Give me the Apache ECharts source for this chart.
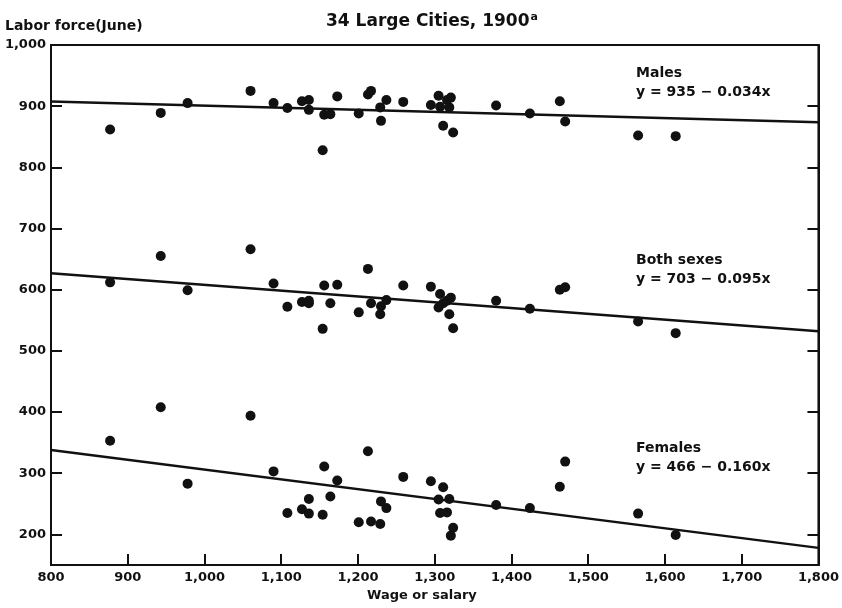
<!DOCTYPE html>
<html>
<head>
<meta charset="utf-8">
<script src="https://cdn.jsdelivr.net/npm/echarts@6/dist/echarts.min.js"></script>
<style>
  html, body { margin: 0; padding: 0; background: #fff; }
  #chart { width: 842px; height: 608px; }
</style>
</head>
<body>
<div id="chart"></div>
<script>
// Average annual wage or salary for each of the 34 cities (dollars)
const wage = [877, 943, 978, 1060, 1090, 1108, 1127, 1136, 1136, 1154, 1156, 1164, 1173, 1201, 1213, 1217,
  1229, 1230, 1237, 1259, 1295, 1305, 1307, 1311, 1316, 1319, 1321, 1324, 1380, 1424, 1463, 1470, 1565, 1614];
// Labor force in June per 1,000 population of each group, same city order
const males = [862, 889, 905, 925, 905, 897, 908, 910, 894, 828, 886, 887, 916, 888, 919, 925,
  898, 876, 910, 907, 902, 917, 899, 868, 910, 898, 914, 857, 901, 888, 908, 875, 852, 851];
const bothSexes = [612, 655, 599, 666, 610, 572, 580, 578, 582, 536, 607, 578, 608, 563, 634, 578,
  560, 573, 583, 607, 605, 571, 593, 578, 582, 560, 587, 537, 582, 569, 600, 604, 548, 529];
const females = [353, 408, 283, 394, 303, 235, 241, 234, 258, 232, 311, 262, 288, 220, 336, 221,
  217, 254, 243, 294, 287, 257, 235, 277, 236, 258, 198, 211, 248, 243, 278, 319, 234, 199];

// Fitted regressions y = a + b·x
const groupNames = ['Males', 'Both sexes', 'Females'];
const fitIntercept = [935, 703, 466];
const fitSlope = [-0.034, -0.095, -0.160];

const xRange = [800, 1800];
const yRange = [150, 1000];
const yTicks = [200, 300, 400, 500, 600, 700, 800, 900, 1000];

const INK = '#111';
const FONT = 'DejaVu Sans';

const fmt = v => v >= 1000 ? Math.floor(v / 1000) + ',' + String(v % 1000).padStart(3, '0') : String(v);

const pts = ys => wage.map((w, i) => [w, ys[i]]);
const fitLine = i => xRange.map(x => [x, fitIntercept[i] + fitSlope[i] * x]);

const dotSeries = ys => ({
  type: 'scatter', data: pts(ys), symbol: 'circle', symbolSize: 10,
  itemStyle: { color: INK, opacity: 1 }, z: 3, silent: true
});
const lineSeries = i => ({
  type: 'line', data: fitLine(i), symbol: 'none',
  lineStyle: { color: INK, width: 2.5 }, z: 2, silent: true
});

const eqText = i => 'y = ' + fitIntercept[i] + ' \u2212 ' + Math.abs(fitSlope[i]).toFixed(3) + 'x';
const labelTops = [66, 253, 441];

const textStyle = { fontFamily: FONT, fontWeight: 'bold', fill: INK };
const labelGraphics = [];
groupNames.forEach((name, i) => {
  labelGraphics.push({ type: 'text', left: 636, top: labelTops[i],
    style: Object.assign({ text: name, fontSize: 14 }, textStyle) });
  labelGraphics.push({ type: 'text', left: 636, top: labelTops[i] + 19,
    style: Object.assign({ text: eqText(i), fontSize: 14 }, textStyle) });
});

const chart = echarts.init(document.getElementById('chart'), null, { renderer: 'canvas' });
chart.setOption({
  backgroundColor: '#fff',
  animation: false,
  title: {
    text: '34 Large Cities, 1900{sup|a}',
    left: 321, top: 7,
    textStyle: {
      fontFamily: FONT, fontSize: 17, fontWeight: 'bold', color: INK,
      rich: { sup: { fontFamily: FONT, fontSize: 11, fontWeight: 'bold', color: INK, verticalAlign: 'top', padding: [0, 0, 9, 1] } }
    }
  },
  grid: { left: 51, right: 19, top: 45, bottom: 43, show: true, borderColor: INK, borderWidth: 2 },
  xAxis: {
    type: 'value', min: xRange[0], max: xRange[1], interval: 100,
    axisLine: { show: true, lineStyle: { color: INK, width: 2 } },
    axisTick: { show: true, inside: true, length: 11, lineStyle: { color: INK, width: 2 } },
    axisLabel: { fontFamily: FONT, fontSize: 13, fontWeight: 'bold', color: INK, margin: 6, formatter: fmt },
    splitLine: { show: false }
  },
  yAxis: [{
    type: 'value', min: yRange[0], max: yRange[1], position: 'left',
    axisLine: { show: true, lineStyle: { color: INK, width: 2 } },
    axisTick: { show: true, inside: true, length: 11, customValues: yTicks, lineStyle: { color: INK, width: 2 } },
    axisLabel: { fontFamily: FONT, fontSize: 13, fontWeight: 'bold', color: INK, margin: 5, customValues: yTicks, formatter: fmt },
    splitLine: { show: false }
  }, {
    type: 'value', min: yRange[0], max: yRange[1], position: 'right',
    axisLine: { show: true, lineStyle: { color: INK, width: 2 } },
    axisTick: { show: true, inside: true, length: 11, customValues: yTicks, lineStyle: { color: INK, width: 2 } },
    axisLabel: { show: false },
    splitLine: { show: false }
  }],
  graphic: [
    { type: 'text', left: 5, top: 19, style: Object.assign({ text: 'Labor force(June)', fontSize: 14 }, textStyle) },
    { type: 'text', left: 367, top: 589, style: Object.assign({ text: 'Wage or salary', fontSize: 13 }, textStyle) }
  ].concat(labelGraphics),
  series: [
    dotSeries(males), dotSeries(bothSexes), dotSeries(females),
    lineSeries(0), lineSeries(1), lineSeries(2)
  ]
});
</script>
</body>
</html>
